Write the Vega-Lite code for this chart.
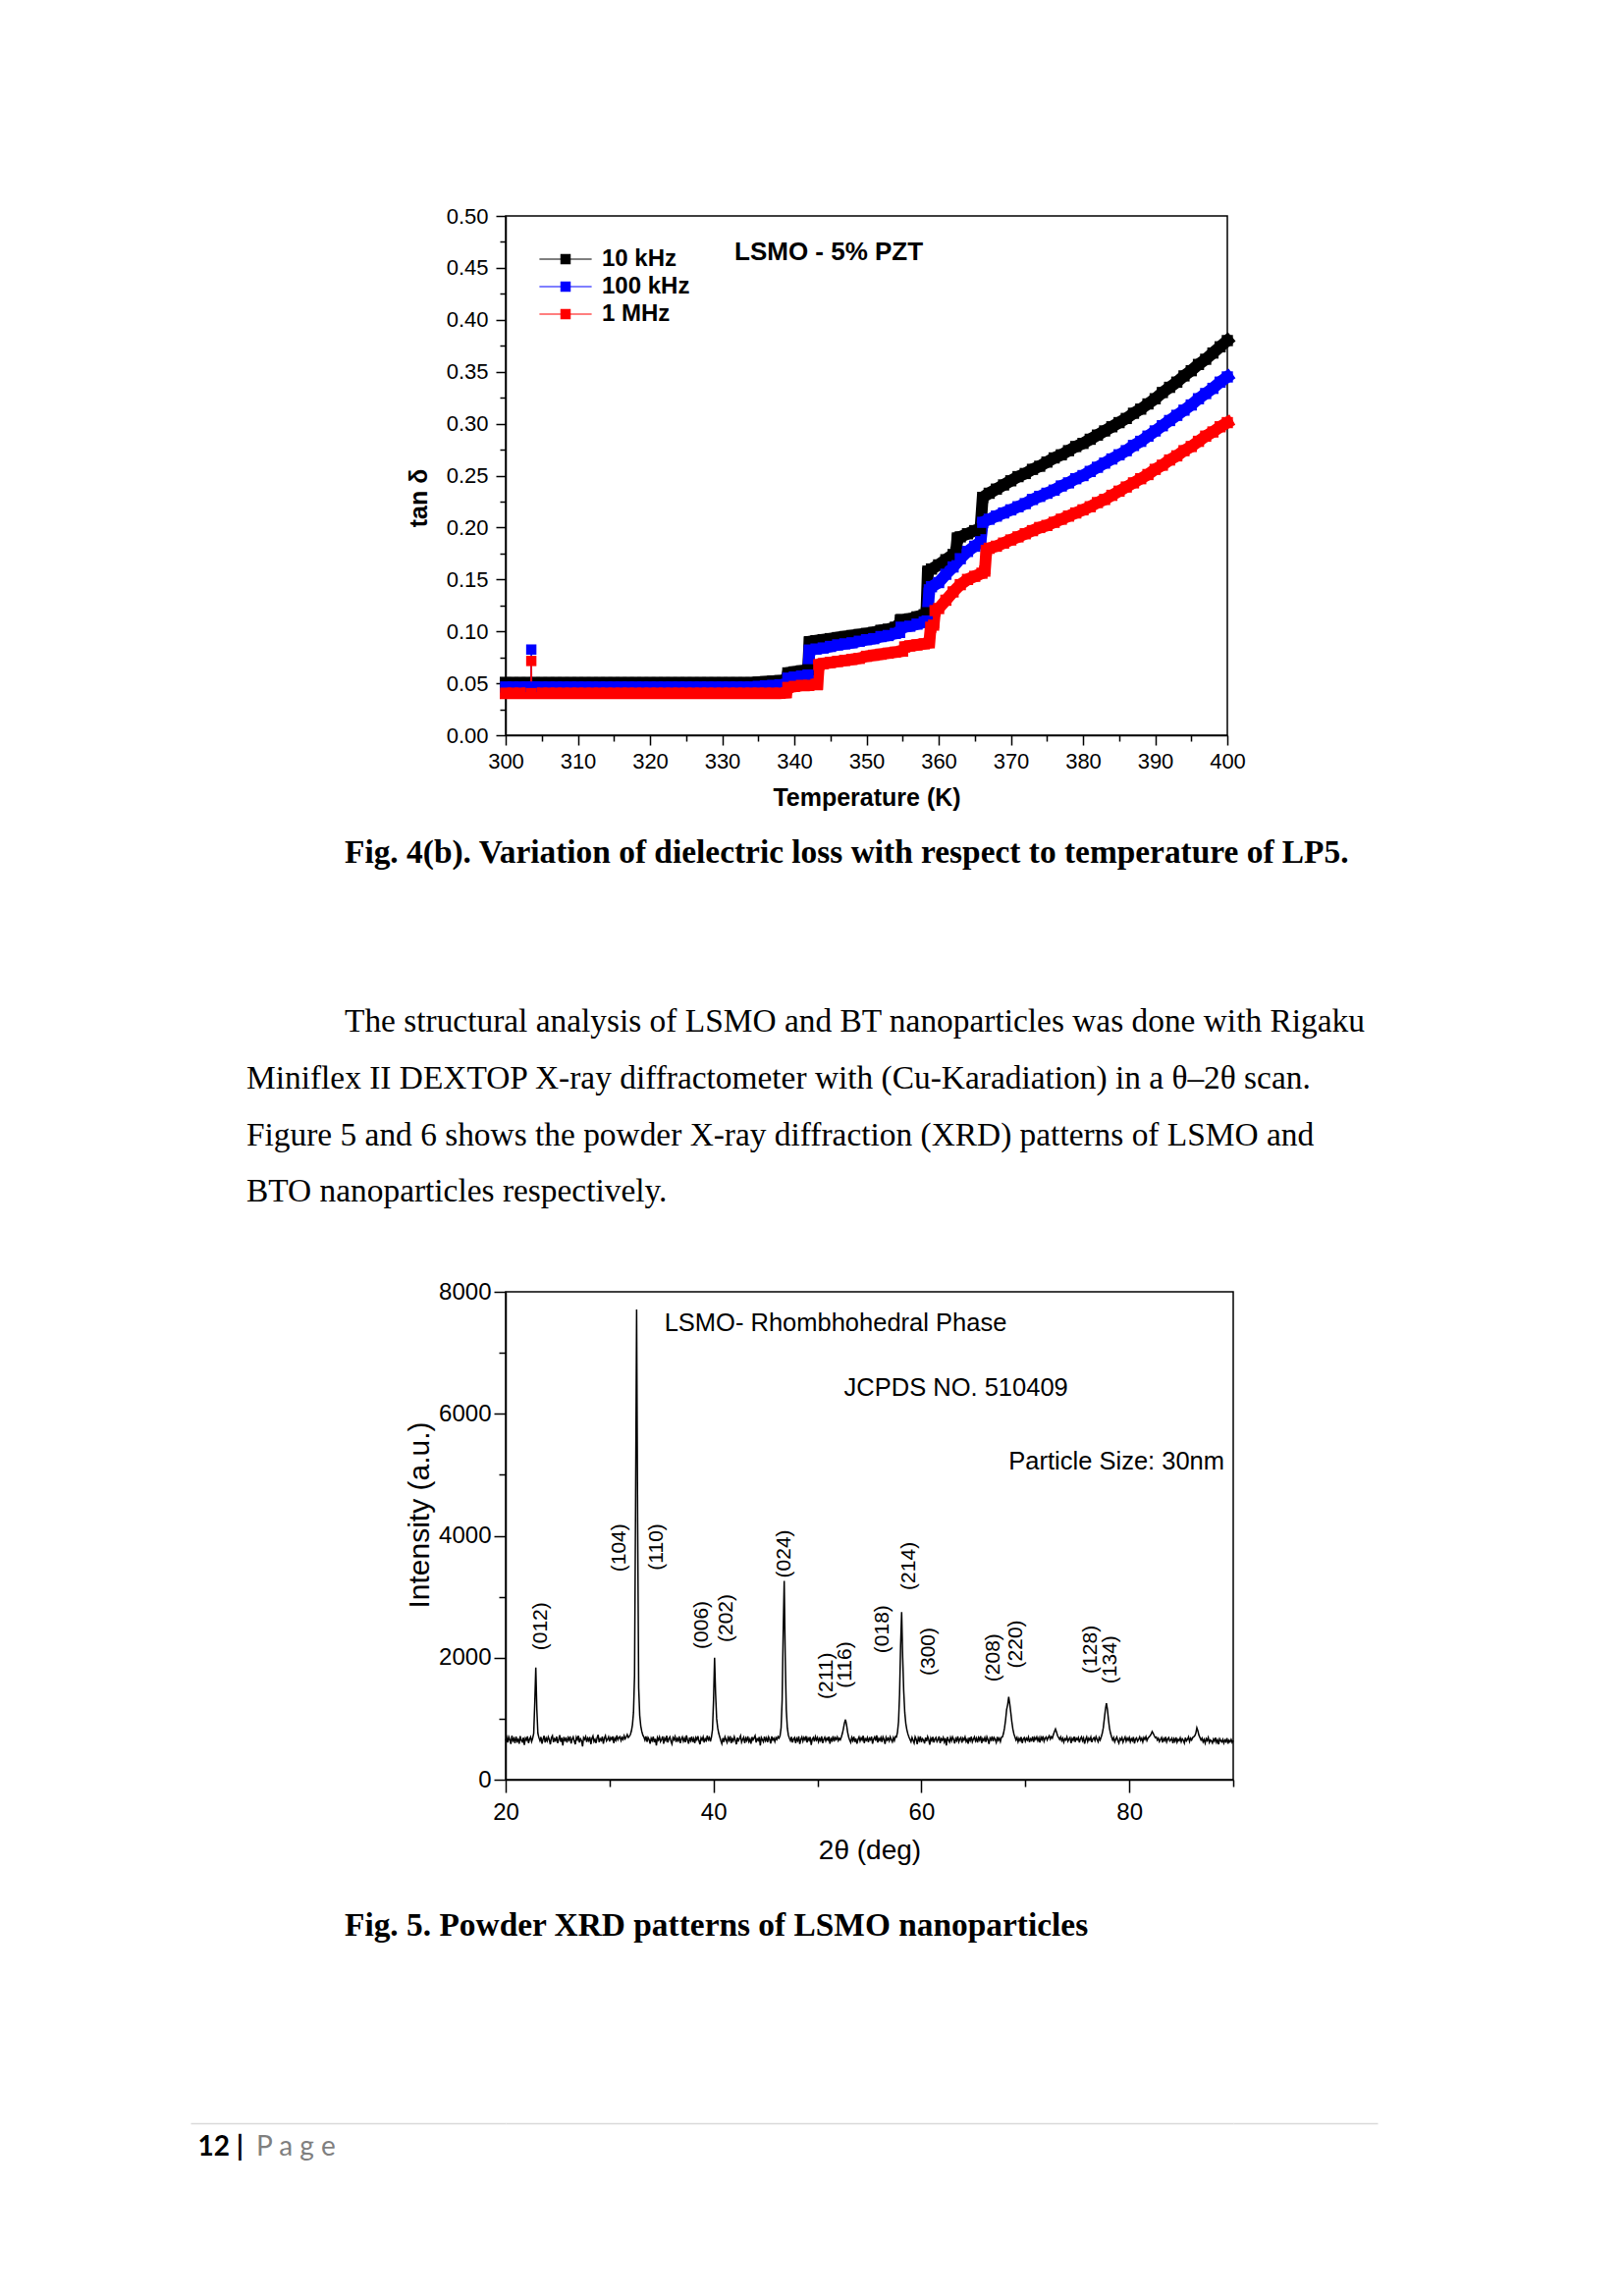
{
"$schema": "https://vega.github.io/schema/vega-lite/v6.json",
"padding": 0,
"background": "white",
"columns": 4,
"spacing": 0,
"bounds": "flush",
"align": "each",
"config": {
  "view": {"stroke": null},
  "axis": {"grid": false, "domainColor": "black", "domainWidth": 1.5, "tickColor": "black", "tickWidth": 1.5, "labelColor": "black", "titleColor": "black", "labelFlush": false, "labelOverlap": false},
  "title": {"baseline": "top", "color": "black"}
},
"datasets": {
 "loss": [
{"T":300,"v":0.0505,"f":"10 kHz"},{"T":301,"v":0.0505,"f":"10 kHz"},{"T":302,"v":0.0505,"f":"10 kHz"},{"T":303,"v":0.0505,"f":"10 kHz"},{"T":304,"v":0.0505,"f":"10 kHz"},{"T":305,"v":0.0505,"f":"10 kHz"},{"T":306,"v":0.0505,"f":"10 kHz"},{"T":307,"v":0.0505,"f":"10 kHz"},{"T":308,"v":0.0505,"f":"10 kHz"},{"T":309,"v":0.0505,"f":"10 kHz"},
{"T":310,"v":0.0505,"f":"10 kHz"},{"T":311,"v":0.0505,"f":"10 kHz"},{"T":312,"v":0.0505,"f":"10 kHz"},{"T":313,"v":0.0505,"f":"10 kHz"},{"T":314,"v":0.0505,"f":"10 kHz"},{"T":315,"v":0.0505,"f":"10 kHz"},{"T":316,"v":0.0505,"f":"10 kHz"},{"T":317,"v":0.0505,"f":"10 kHz"},{"T":318,"v":0.0505,"f":"10 kHz"},{"T":319,"v":0.0505,"f":"10 kHz"},
{"T":320,"v":0.0505,"f":"10 kHz"},{"T":321,"v":0.0505,"f":"10 kHz"},{"T":322,"v":0.0505,"f":"10 kHz"},{"T":323,"v":0.0505,"f":"10 kHz"},{"T":324,"v":0.0505,"f":"10 kHz"},{"T":325,"v":0.0505,"f":"10 kHz"},{"T":326,"v":0.0505,"f":"10 kHz"},{"T":327,"v":0.0505,"f":"10 kHz"},{"T":328,"v":0.0505,"f":"10 kHz"},{"T":329,"v":0.0505,"f":"10 kHz"},
{"T":330,"v":0.0505,"f":"10 kHz"},{"T":331,"v":0.0505,"f":"10 kHz"},{"T":332,"v":0.0505,"f":"10 kHz"},{"T":333,"v":0.0505,"f":"10 kHz"},{"T":334,"v":0.0505,"f":"10 kHz"},{"T":335,"v":0.051,"f":"10 kHz"},{"T":336,"v":0.0515,"f":"10 kHz"},{"T":337,"v":0.052,"f":"10 kHz"},{"T":338,"v":0.0525,"f":"10 kHz"},{"T":338.9,"v":0.053,"f":"10 kHz"},
{"T":339.1,"v":0.06,"f":"10 kHz"},{"T":340,"v":0.061,"f":"10 kHz"},{"T":341,"v":0.062,"f":"10 kHz"},{"T":341.9,"v":0.063,"f":"10 kHz"},{"T":342.1,"v":0.09,"f":"10 kHz"},{"T":343,"v":0.091,"f":"10 kHz"},{"T":344,"v":0.092,"f":"10 kHz"},{"T":345,"v":0.093,"f":"10 kHz"},{"T":346,"v":0.094,"f":"10 kHz"},{"T":347,"v":0.095,"f":"10 kHz"},
{"T":348,"v":0.096,"f":"10 kHz"},{"T":349,"v":0.097,"f":"10 kHz"},{"T":350,"v":0.098,"f":"10 kHz"},{"T":351,"v":0.099,"f":"10 kHz"},{"T":352,"v":0.101,"f":"10 kHz"},{"T":353,"v":0.102,"f":"10 kHz"},{"T":354,"v":0.104,"f":"10 kHz"},{"T":354.5,"v":0.105,"f":"10 kHz"},{"T":354.7,"v":0.111,"f":"10 kHz"},{"T":355,"v":0.111,"f":"10 kHz"},
{"T":356,"v":0.112,"f":"10 kHz"},{"T":357,"v":0.114,"f":"10 kHz"},{"T":358,"v":0.116,"f":"10 kHz"},{"T":358.3,"v":0.118,"f":"10 kHz"},{"T":358.5,"v":0.158,"f":"10 kHz"},{"T":359,"v":0.16,"f":"10 kHz"},{"T":360,"v":0.164,"f":"10 kHz"},{"T":361,"v":0.169,"f":"10 kHz"},{"T":362,"v":0.174,"f":"10 kHz"},{"T":362.4,"v":0.176,"f":"10 kHz"},
{"T":362.6,"v":0.19,"f":"10 kHz"},{"T":363,"v":0.191,"f":"10 kHz"},{"T":364,"v":0.194,"f":"10 kHz"},{"T":365,"v":0.197,"f":"10 kHz"},{"T":365.8,"v":0.199,"f":"10 kHz"},{"T":366.1,"v":0.229,"f":"10 kHz"},{"T":367,"v":0.233,"f":"10 kHz"},{"T":368,"v":0.237,"f":"10 kHz"},{"T":369,"v":0.241,"f":"10 kHz"},{"T":370,"v":0.245,"f":"10 kHz"},
{"T":371,"v":0.249,"f":"10 kHz"},{"T":372,"v":0.252,"f":"10 kHz"},{"T":373,"v":0.256,"f":"10 kHz"},{"T":374,"v":0.259,"f":"10 kHz"},{"T":375,"v":0.263,"f":"10 kHz"},{"T":376,"v":0.267,"f":"10 kHz"},{"T":377,"v":0.27,"f":"10 kHz"},{"T":378,"v":0.274,"f":"10 kHz"},{"T":379,"v":0.278,"f":"10 kHz"},{"T":380,"v":0.281,"f":"10 kHz"},
{"T":381,"v":0.285,"f":"10 kHz"},{"T":382,"v":0.289,"f":"10 kHz"},{"T":383,"v":0.293,"f":"10 kHz"},{"T":384,"v":0.297,"f":"10 kHz"},{"T":385,"v":0.301,"f":"10 kHz"},{"T":386,"v":0.305,"f":"10 kHz"},{"T":387,"v":0.31,"f":"10 kHz"},{"T":388,"v":0.314,"f":"10 kHz"},{"T":389,"v":0.319,"f":"10 kHz"},{"T":390,"v":0.324,"f":"10 kHz"},
{"T":391,"v":0.33,"f":"10 kHz"},{"T":392,"v":0.335,"f":"10 kHz"},{"T":393,"v":0.34,"f":"10 kHz"},{"T":394,"v":0.346,"f":"10 kHz"},{"T":395,"v":0.351,"f":"10 kHz"},{"T":396,"v":0.357,"f":"10 kHz"},{"T":397,"v":0.362,"f":"10 kHz"},{"T":398,"v":0.368,"f":"10 kHz"},{"T":399,"v":0.374,"f":"10 kHz"},{"T":400,"v":0.38,"f":"10 kHz"},
{"T":300,"v":0.0465,"f":"100 kHz"},{"T":301,"v":0.0465,"f":"100 kHz"},{"T":302,"v":0.0465,"f":"100 kHz"},{"T":303,"v":0.0465,"f":"100 kHz"},{"T":304,"v":0.0465,"f":"100 kHz"},{"T":305,"v":0.0465,"f":"100 kHz"},{"T":306,"v":0.0465,"f":"100 kHz"},
{"T":307,"v":0.0465,"f":"100 kHz"},{"T":308,"v":0.0465,"f":"100 kHz"},{"T":309,"v":0.0465,"f":"100 kHz"},{"T":310,"v":0.0465,"f":"100 kHz"},{"T":311,"v":0.0465,"f":"100 kHz"},{"T":312,"v":0.0465,"f":"100 kHz"},{"T":313,"v":0.0465,"f":"100 kHz"},{"T":314,"v":0.0465,"f":"100 kHz"},{"T":315,"v":0.0465,"f":"100 kHz"},{"T":316,"v":0.0465,"f":"100 kHz"},
{"T":317,"v":0.0465,"f":"100 kHz"},{"T":318,"v":0.0465,"f":"100 kHz"},{"T":319,"v":0.0465,"f":"100 kHz"},{"T":320,"v":0.0465,"f":"100 kHz"},{"T":321,"v":0.0465,"f":"100 kHz"},{"T":322,"v":0.0465,"f":"100 kHz"},{"T":323,"v":0.0465,"f":"100 kHz"},{"T":324,"v":0.0465,"f":"100 kHz"},{"T":325,"v":0.0465,"f":"100 kHz"},{"T":326,"v":0.0465,"f":"100 kHz"},
{"T":327,"v":0.0465,"f":"100 kHz"},{"T":328,"v":0.0465,"f":"100 kHz"},{"T":329,"v":0.0465,"f":"100 kHz"},{"T":330,"v":0.0465,"f":"100 kHz"},{"T":331,"v":0.0465,"f":"100 kHz"},{"T":332,"v":0.0465,"f":"100 kHz"},{"T":333,"v":0.0465,"f":"100 kHz"},{"T":334,"v":0.0465,"f":"100 kHz"},{"T":335,"v":0.047,"f":"100 kHz"},{"T":336,"v":0.0475,"f":"100 kHz"},
{"T":337,"v":0.048,"f":"100 kHz"},{"T":338,"v":0.0485,"f":"100 kHz"},{"T":338.9,"v":0.049,"f":"100 kHz"},{"T":339.1,"v":0.055,"f":"100 kHz"},{"T":340,"v":0.056,"f":"100 kHz"},{"T":341,"v":0.057,"f":"100 kHz"},{"T":341.9,"v":0.058,"f":"100 kHz"},{"T":342.1,"v":0.082,"f":"100 kHz"},{"T":343,"v":0.083,"f":"100 kHz"},{"T":344,"v":0.084,"f":"100 kHz"},
{"T":345,"v":0.0855,"f":"100 kHz"},{"T":346,"v":0.087,"f":"100 kHz"},{"T":347,"v":0.088,"f":"100 kHz"},{"T":348,"v":0.089,"f":"100 kHz"},{"T":349,"v":0.0905,"f":"100 kHz"},{"T":350,"v":0.092,"f":"100 kHz"},{"T":351,"v":0.093,"f":"100 kHz"},{"T":352,"v":0.095,"f":"100 kHz"},{"T":353,"v":0.096,"f":"100 kHz"},{"T":354,"v":0.098,"f":"100 kHz"},
{"T":354.6,"v":0.099,"f":"100 kHz"},{"T":354.8,"v":0.104,"f":"100 kHz"},{"T":356,"v":0.105,"f":"100 kHz"},{"T":357,"v":0.107,"f":"100 kHz"},{"T":358,"v":0.109,"f":"100 kHz"},{"T":358.4,"v":0.11,"f":"100 kHz"},{"T":358.7,"v":0.14,"f":"100 kHz"},{"T":359,"v":0.143,"f":"100 kHz"},{"T":360,"v":0.147,"f":"100 kHz"},{"T":361,"v":0.155,"f":"100 kHz"},
{"T":362,"v":0.162,"f":"100 kHz"},{"T":363,"v":0.17,"f":"100 kHz"},{"T":364,"v":0.177,"f":"100 kHz"},{"T":365,"v":0.182,"f":"100 kHz"},{"T":365.8,"v":0.186,"f":"100 kHz"},{"T":366.1,"v":0.205,"f":"100 kHz"},{"T":367,"v":0.208,"f":"100 kHz"},{"T":368,"v":0.211,"f":"100 kHz"},{"T":369,"v":0.214,"f":"100 kHz"},{"T":370,"v":0.217,"f":"100 kHz"},
{"T":371,"v":0.22,"f":"100 kHz"},{"T":372,"v":0.223,"f":"100 kHz"},{"T":373,"v":0.227,"f":"100 kHz"},{"T":374,"v":0.23,"f":"100 kHz"},{"T":375,"v":0.233,"f":"100 kHz"},{"T":376,"v":0.236,"f":"100 kHz"},{"T":377,"v":0.24,"f":"100 kHz"},{"T":378,"v":0.243,"f":"100 kHz"},{"T":379,"v":0.247,"f":"100 kHz"},{"T":380,"v":0.25,"f":"100 kHz"},
{"T":381,"v":0.254,"f":"100 kHz"},{"T":382,"v":0.258,"f":"100 kHz"},{"T":383,"v":0.262,"f":"100 kHz"},{"T":384,"v":0.266,"f":"100 kHz"},{"T":385,"v":0.27,"f":"100 kHz"},{"T":386,"v":0.274,"f":"100 kHz"},{"T":387,"v":0.279,"f":"100 kHz"},{"T":388,"v":0.283,"f":"100 kHz"},{"T":389,"v":0.288,"f":"100 kHz"},{"T":390,"v":0.293,"f":"100 kHz"},
{"T":391,"v":0.298,"f":"100 kHz"},{"T":392,"v":0.303,"f":"100 kHz"},{"T":393,"v":0.308,"f":"100 kHz"},{"T":394,"v":0.313,"f":"100 kHz"},{"T":395,"v":0.318,"f":"100 kHz"},{"T":396,"v":0.324,"f":"100 kHz"},{"T":397,"v":0.329,"f":"100 kHz"},{"T":398,"v":0.334,"f":"100 kHz"},{"T":399,"v":0.34,"f":"100 kHz"},{"T":400,"v":0.345,"f":"100 kHz"},
{"T":300,"v":0.0405,"f":"1 MHz"},{"T":301,"v":0.0405,"f":"1 MHz"},{"T":302,"v":0.0405,"f":"1 MHz"},{"T":303,"v":0.0405,"f":"1 MHz"},{"T":304,"v":0.0405,"f":"1 MHz"},{"T":305,"v":0.0405,"f":"1 MHz"},{"T":306,"v":0.0405,"f":"1 MHz"},
{"T":307,"v":0.0405,"f":"1 MHz"},{"T":308,"v":0.0405,"f":"1 MHz"},{"T":309,"v":0.0405,"f":"1 MHz"},{"T":310,"v":0.0405,"f":"1 MHz"},{"T":311,"v":0.0405,"f":"1 MHz"},{"T":312,"v":0.0405,"f":"1 MHz"},{"T":313,"v":0.0405,"f":"1 MHz"},{"T":314,"v":0.0405,"f":"1 MHz"},{"T":315,"v":0.0405,"f":"1 MHz"},{"T":316,"v":0.0405,"f":"1 MHz"},
{"T":317,"v":0.0405,"f":"1 MHz"},{"T":318,"v":0.0405,"f":"1 MHz"},{"T":319,"v":0.0405,"f":"1 MHz"},{"T":320,"v":0.0405,"f":"1 MHz"},{"T":321,"v":0.0405,"f":"1 MHz"},{"T":322,"v":0.0405,"f":"1 MHz"},{"T":323,"v":0.0405,"f":"1 MHz"},{"T":324,"v":0.0405,"f":"1 MHz"},{"T":325,"v":0.0405,"f":"1 MHz"},{"T":326,"v":0.0405,"f":"1 MHz"},
{"T":327,"v":0.0405,"f":"1 MHz"},{"T":328,"v":0.0405,"f":"1 MHz"},{"T":329,"v":0.0405,"f":"1 MHz"},{"T":330,"v":0.0405,"f":"1 MHz"},{"T":331,"v":0.0405,"f":"1 MHz"},{"T":332,"v":0.0405,"f":"1 MHz"},{"T":333,"v":0.0405,"f":"1 MHz"},{"T":334,"v":0.0405,"f":"1 MHz"},{"T":335,"v":0.0405,"f":"1 MHz"},{"T":336,"v":0.0405,"f":"1 MHz"},
{"T":337,"v":0.0405,"f":"1 MHz"},{"T":338,"v":0.0405,"f":"1 MHz"},{"T":338.9,"v":0.041,"f":"1 MHz"},{"T":339.1,"v":0.046,"f":"1 MHz"},{"T":340,"v":0.047,"f":"1 MHz"},{"T":341,"v":0.048,"f":"1 MHz"},{"T":342,"v":0.048,"f":"1 MHz"},{"T":343,"v":0.049,"f":"1 MHz"},{"T":343.2,"v":0.049,"f":"1 MHz"},{"T":343.4,"v":0.068,"f":"1 MHz"},
{"T":344,"v":0.069,"f":"1 MHz"},{"T":345,"v":0.07,"f":"1 MHz"},{"T":346,"v":0.071,"f":"1 MHz"},{"T":347,"v":0.072,"f":"1 MHz"},{"T":348,"v":0.073,"f":"1 MHz"},{"T":349,"v":0.074,"f":"1 MHz"},{"T":350,"v":0.076,"f":"1 MHz"},{"T":351,"v":0.077,"f":"1 MHz"},{"T":352,"v":0.078,"f":"1 MHz"},{"T":353,"v":0.079,"f":"1 MHz"},
{"T":354,"v":0.08,"f":"1 MHz"},{"T":355,"v":0.081,"f":"1 MHz"},{"T":355.3,"v":0.085,"f":"1 MHz"},{"T":356,"v":0.086,"f":"1 MHz"},{"T":357,"v":0.087,"f":"1 MHz"},{"T":358,"v":0.088,"f":"1 MHz"},{"T":358.7,"v":0.089,"f":"1 MHz"},{"T":358.9,"v":0.104,"f":"1 MHz"},{"T":359.3,"v":0.106,"f":"1 MHz"},{"T":359.5,"v":0.12,"f":"1 MHz"},
{"T":360,"v":0.122,"f":"1 MHz"},{"T":361,"v":0.13,"f":"1 MHz"},{"T":362,"v":0.138,"f":"1 MHz"},{"T":363,"v":0.145,"f":"1 MHz"},{"T":364,"v":0.15,"f":"1 MHz"},{"T":365,"v":0.153,"f":"1 MHz"},{"T":366,"v":0.156,"f":"1 MHz"},{"T":366.4,"v":0.158,"f":"1 MHz"},{"T":366.6,"v":0.178,"f":"1 MHz"},{"T":367,"v":0.18,"f":"1 MHz"},
{"T":368,"v":0.182,"f":"1 MHz"},{"T":369,"v":0.185,"f":"1 MHz"},{"T":370,"v":0.188,"f":"1 MHz"},{"T":371,"v":0.191,"f":"1 MHz"},{"T":372,"v":0.194,"f":"1 MHz"},{"T":373,"v":0.197,"f":"1 MHz"},{"T":374,"v":0.2,"f":"1 MHz"},{"T":375,"v":0.202,"f":"1 MHz"},{"T":376,"v":0.205,"f":"1 MHz"},{"T":377,"v":0.208,"f":"1 MHz"},
{"T":378,"v":0.211,"f":"1 MHz"},{"T":379,"v":0.214,"f":"1 MHz"},{"T":380,"v":0.217,"f":"1 MHz"},{"T":381,"v":0.22,"f":"1 MHz"},{"T":382,"v":0.224,"f":"1 MHz"},{"T":383,"v":0.227,"f":"1 MHz"},{"T":384,"v":0.231,"f":"1 MHz"},{"T":385,"v":0.235,"f":"1 MHz"},{"T":386,"v":0.239,"f":"1 MHz"},{"T":387,"v":0.243,"f":"1 MHz"},
{"T":388,"v":0.247,"f":"1 MHz"},{"T":389,"v":0.251,"f":"1 MHz"},{"T":390,"v":0.256,"f":"1 MHz"},{"T":391,"v":0.26,"f":"1 MHz"},{"T":392,"v":0.265,"f":"1 MHz"},{"T":393,"v":0.269,"f":"1 MHz"},{"T":394,"v":0.274,"f":"1 MHz"},{"T":395,"v":0.278,"f":"1 MHz"},{"T":396,"v":0.283,"f":"1 MHz"},{"T":397,"v":0.288,"f":"1 MHz"},
{"T":398,"v":0.292,"f":"1 MHz"},{"T":399,"v":0.297,"f":"1 MHz"},{"T":400,"v":0.301,"f":"1 MHz"}
 ],
 "spike": [
{"T":303.5,"v":0.0465,"f":"100 kHz"},{"T":303.55,"v":0.0825,"f":"100 kHz"},{"T":303.6,"v":0.0465,"f":"100 kHz"},
{"T":303.5,"v":0.0405,"f":"1 MHz"},{"T":303.55,"v":0.0715,"f":"1 MHz"},{"T":303.6,"v":0.0405,"f":"1 MHz"}
 ],
 "xrd": [
{"t":20,"I":640},{"t":20.1,"I":690},{"t":20.2,"I":610},{"t":20.3,"I":700},{"t":20.4,"I":655},{"t":20.5,"I":585},{"t":20.6,"I":720},{"t":20.7,"I":640},{"t":20.8,"I":675},{"t":20.9,"I":600},
{"t":21,"I":705},{"t":21.1,"I":630},{"t":21.2,"I":660},{"t":21.3,"I":590},{"t":21.4,"I":715},{"t":21.5,"I":645},{"t":21.6,"I":620},{"t":21.7,"I":690},{"t":21.8,"I":570},{"t":21.9,"I":680},
{"t":22,"I":650},{"t":22.1,"I":710},{"t":22.2,"I":600},{"t":22.3,"I":665},{"t":22.4,"I":700},{"t":22.5,"I":625},{"t":22.6,"I":680},{"t":22.7,"I":760},{"t":22.8,"I":1250},{"t":22.9,"I":1840},
{"t":23,"I":1150},{"t":23.1,"I":760},{"t":23.2,"I":690},{"t":23.3,"I":640},{"t":23.4,"I":700},{"t":23.5,"I":590},{"t":23.6,"I":665},{"t":23.7,"I":720},{"t":23.8,"I":610},{"t":23.9,"I":680},
{"t":24,"I":635},{"t":24.1,"I":700},{"t":24.2,"I":655},{"t":24.3,"I":580},{"t":24.4,"I":690},{"t":24.5,"I":720},{"t":24.6,"I":615},{"t":24.7,"I":670},{"t":24.8,"I":640},{"t":24.9,"I":705},
{"t":25,"I":600},{"t":25.1,"I":660},{"t":25.2,"I":730},{"t":25.3,"I":620},{"t":25.4,"I":685},{"t":25.5,"I":560},{"t":25.6,"I":700},{"t":25.7,"I":645},{"t":25.8,"I":675},{"t":25.9,"I":610},
{"t":26,"I":690},{"t":26.1,"I":650},{"t":26.2,"I":710},{"t":26.3,"I":595},{"t":26.4,"I":665},{"t":26.5,"I":700},{"t":26.6,"I":630},{"t":26.7,"I":580},{"t":26.8,"I":695},{"t":26.9,"I":655},
{"t":27,"I":720},{"t":27.1,"I":610},{"t":27.2,"I":670},{"t":27.3,"I":640},{"t":27.4,"I":545},{"t":27.5,"I":690},{"t":27.6,"I":660},{"t":27.7,"I":705},{"t":27.8,"I":620},{"t":27.9,"I":680},
{"t":28,"I":640},{"t":28.1,"I":700},{"t":28.2,"I":580},{"t":28.3,"I":675},{"t":28.4,"I":715},{"t":28.5,"I":625},{"t":28.6,"I":660},{"t":28.7,"I":600},{"t":28.8,"I":690},{"t":28.9,"I":735},
{"t":29,"I":615},{"t":29.1,"I":670},{"t":29.2,"I":645},{"t":29.3,"I":705},{"t":29.4,"I":590},{"t":29.5,"I":680},{"t":29.6,"I":720},{"t":29.7,"I":635},{"t":29.8,"I":660},{"t":29.9,"I":700},
{"t":30,"I":625},{"t":30.1,"I":690},{"t":30.2,"I":660},{"t":30.3,"I":710},{"t":30.4,"I":600},{"t":30.5,"I":680},{"t":30.6,"I":645},{"t":30.7,"I":725},{"t":30.8,"I":655},{"t":30.9,"I":690},
{"t":31,"I":705},{"t":31.1,"I":640},{"t":31.2,"I":690},{"t":31.3,"I":660},{"t":31.4,"I":720},{"t":31.5,"I":670},{"t":31.6,"I":700},{"t":31.7,"I":740},{"t":31.8,"I":690},{"t":31.9,"I":710},
{"t":32,"I":740},{"t":32.1,"I":800},{"t":32.2,"I":900},{"t":32.3,"I":1100},{"t":32.4,"I":1700},{"t":32.5,"I":4500},{"t":32.6,"I":7710},{"t":32.7,"I":4200},{"t":32.8,"I":1500},{"t":32.9,"I":1050},
{"t":33,"I":880},{"t":33.1,"I":790},{"t":33.2,"I":730},{"t":33.3,"I":700},{"t":33.4,"I":650},{"t":33.5,"I":710},{"t":33.6,"I":620},{"t":33.7,"I":690},{"t":33.8,"I":660},{"t":33.9,"I":590},
{"t":34,"I":680},{"t":34.1,"I":640},{"t":34.2,"I":705},{"t":34.3,"I":615},{"t":34.4,"I":670},{"t":34.5,"I":560},{"t":34.6,"I":690},{"t":34.7,"I":650},{"t":34.8,"I":700},{"t":34.9,"I":625},
{"t":35,"I":660},{"t":35.1,"I":710},{"t":35.2,"I":590},{"t":35.3,"I":680},{"t":35.4,"I":645},{"t":35.5,"I":720},{"t":35.6,"I":610},{"t":35.7,"I":670},{"t":35.8,"I":700},{"t":35.9,"I":630},
{"t":36,"I":585},{"t":36.1,"I":690},{"t":36.2,"I":655},{"t":36.3,"I":705},{"t":36.4,"I":620},{"t":36.5,"I":675},{"t":36.6,"I":640},{"t":36.7,"I":710},{"t":36.8,"I":600},{"t":36.9,"I":665},
{"t":37,"I":700},{"t":37.1,"I":630},{"t":37.2,"I":680},{"t":37.3,"I":615},{"t":37.4,"I":725},{"t":37.5,"I":650},{"t":37.6,"I":590},{"t":37.7,"I":690},{"t":37.8,"I":640},{"t":37.9,"I":705},
{"t":38,"I":620},{"t":38.1,"I":675},{"t":38.2,"I":600},{"t":38.3,"I":690},{"t":38.4,"I":655},{"t":38.5,"I":715},{"t":38.6,"I":635},{"t":38.7,"I":580},{"t":38.8,"I":685},{"t":38.9,"I":650},
{"t":39,"I":700},{"t":39.1,"I":610},{"t":39.2,"I":670},{"t":39.3,"I":640},{"t":39.4,"I":720},{"t":39.5,"I":655},{"t":39.6,"I":690},{"t":39.7,"I":625},{"t":39.8,"I":700},{"t":39.9,"I":820},
{"t":40,"I":1300},{"t":40.1,"I":2000},{"t":40.2,"I":1400},{"t":40.3,"I":1000},{"t":40.4,"I":850},{"t":40.5,"I":760},{"t":40.6,"I":700},{"t":40.7,"I":640},{"t":40.8,"I":590},{"t":40.9,"I":680},
{"t":41,"I":620},{"t":41.1,"I":700},{"t":41.2,"I":655},{"t":41.3,"I":610},{"t":41.4,"I":690},{"t":41.5,"I":645},{"t":41.6,"I":715},{"t":41.7,"I":600},{"t":41.8,"I":670},{"t":41.9,"I":635},
{"t":42,"I":705},{"t":42.1,"I":650},{"t":42.2,"I":580},{"t":42.3,"I":690},{"t":42.4,"I":640},{"t":42.5,"I":675},{"t":42.6,"I":720},{"t":42.7,"I":615},{"t":42.8,"I":660},{"t":42.9,"I":695},
{"t":43,"I":600},{"t":43.1,"I":680},{"t":43.2,"I":640},{"t":43.3,"I":710},{"t":43.4,"I":625},{"t":43.5,"I":665},{"t":43.6,"I":590},{"t":43.7,"I":700},{"t":43.8,"I":650},{"t":43.9,"I":685},
{"t":44,"I":720},{"t":44.1,"I":610},{"t":44.2,"I":670},{"t":44.3,"I":645},{"t":44.4,"I":700},{"t":44.5,"I":560},{"t":44.6,"I":690},{"t":44.7,"I":655},{"t":44.8,"I":620},{"t":44.9,"I":705},
{"t":45,"I":640},{"t":45.1,"I":685},{"t":45.2,"I":615},{"t":45.3,"I":700},{"t":45.4,"I":660},{"t":45.5,"I":595},{"t":45.6,"I":710},{"t":45.7,"I":650},{"t":45.8,"I":680},{"t":45.9,"I":625},
{"t":46,"I":690},{"t":46.1,"I":660},{"t":46.2,"I":705},{"t":46.3,"I":680},{"t":46.4,"I":720},{"t":46.5,"I":850},{"t":46.6,"I":1300},{"t":46.7,"I":2400},{"t":46.8,"I":3260},{"t":46.9,"I":2000},
{"t":47,"I":1150},{"t":47.1,"I":850},{"t":47.2,"I":730},{"t":47.3,"I":680},{"t":47.4,"I":640},{"t":47.5,"I":700},{"t":47.6,"I":610},{"t":47.7,"I":665},{"t":47.8,"I":690},{"t":47.9,"I":600},
{"t":48,"I":675},{"t":48.1,"I":640},{"t":48.2,"I":710},{"t":48.3,"I":585},{"t":48.4,"I":660},{"t":48.5,"I":700},{"t":48.6,"I":630},{"t":48.7,"I":690},{"t":48.8,"I":655},{"t":48.9,"I":715},
{"t":49,"I":610},{"t":49.1,"I":680},{"t":49.2,"I":645},{"t":49.3,"I":700},{"t":49.4,"I":570},{"t":49.5,"I":665},{"t":49.6,"I":690},{"t":49.7,"I":625},{"t":49.8,"I":705},{"t":49.9,"I":650},
{"t":50,"I":690},{"t":50.1,"I":620},{"t":50.2,"I":675},{"t":50.3,"I":640},{"t":50.4,"I":710},{"t":50.5,"I":600},{"t":50.6,"I":660},{"t":50.7,"I":695},{"t":50.8,"I":635},{"t":50.9,"I":680},
{"t":51,"I":650},{"t":51.1,"I":705},{"t":51.2,"I":590},{"t":51.3,"I":670},{"t":51.4,"I":640},{"t":51.5,"I":715},{"t":51.6,"I":625},{"t":51.7,"I":690},{"t":51.8,"I":660},{"t":51.9,"I":700},
{"t":52,"I":640},{"t":52.1,"I":680},{"t":52.2,"I":655},{"t":52.3,"I":700},{"t":52.4,"I":760},{"t":52.5,"I":840},{"t":52.6,"I":930},{"t":52.7,"I":985},{"t":52.8,"I":900},{"t":52.9,"I":780},
{"t":53,"I":700},{"t":53.1,"I":650},{"t":53.2,"I":610},{"t":53.3,"I":690},{"t":53.4,"I":640},{"t":53.5,"I":705},{"t":53.6,"I":620},{"t":53.7,"I":675},{"t":53.8,"I":590},{"t":53.9,"I":660},
{"t":54,"I":700},{"t":54.1,"I":635},{"t":54.2,"I":685},{"t":54.3,"I":650},{"t":54.4,"I":720},{"t":54.5,"I":600},{"t":54.6,"I":670},{"t":54.7,"I":645},{"t":54.8,"I":690},{"t":54.9,"I":615},
{"t":55,"I":680},{"t":55.1,"I":655},{"t":55.2,"I":705},{"t":55.3,"I":590},{"t":55.4,"I":665},{"t":55.5,"I":700},{"t":55.6,"I":640},{"t":55.7,"I":725},{"t":55.8,"I":610},{"t":55.9,"I":675},
{"t":56,"I":645},{"t":56.1,"I":690},{"t":56.2,"I":620},{"t":56.3,"I":700},{"t":56.4,"I":660},{"t":56.5,"I":585},{"t":56.6,"I":695},{"t":56.7,"I":650},{"t":56.8,"I":680},{"t":56.9,"I":635},
{"t":57,"I":700},{"t":57.1,"I":655},{"t":57.2,"I":620},{"t":57.3,"I":690},{"t":57.4,"I":640},{"t":57.5,"I":705},{"t":57.6,"I":700},{"t":57.7,"I":780},{"t":57.8,"I":950},{"t":57.9,"I":1400},
{"t":58,"I":2200},{"t":58.1,"I":2750},{"t":58.2,"I":2000},{"t":58.3,"I":1450},{"t":58.4,"I":1100},{"t":58.5,"I":920},{"t":58.6,"I":820},{"t":58.7,"I":750},{"t":58.8,"I":700},{"t":58.9,"I":660},
{"t":59,"I":620},{"t":59.1,"I":690},{"t":59.2,"I":645},{"t":59.3,"I":600},{"t":59.4,"I":700},{"t":59.5,"I":660},{"t":59.6,"I":580},{"t":59.7,"I":685},{"t":59.8,"I":640},{"t":59.9,"I":710},
{"t":60,"I":615},{"t":60.1,"I":670},{"t":60.2,"I":650},{"t":60.3,"I":595},{"t":60.4,"I":690},{"t":60.5,"I":630},{"t":60.6,"I":705},{"t":60.7,"I":660},{"t":60.8,"I":575},{"t":60.9,"I":680},
{"t":61,"I":640},{"t":61.1,"I":700},{"t":61.2,"I":610},{"t":61.3,"I":665},{"t":61.4,"I":690},{"t":61.5,"I":625},{"t":61.6,"I":655},{"t":61.7,"I":710},{"t":61.8,"I":600},{"t":61.9,"I":670},
{"t":62,"I":645},{"t":62.1,"I":690},{"t":62.2,"I":620},{"t":62.3,"I":680},{"t":62.4,"I":560},{"t":62.5,"I":700},{"t":62.6,"I":650},{"t":62.7,"I":615},{"t":62.8,"I":690},{"t":62.9,"I":635},
{"t":63,"I":700},{"t":63.1,"I":660},{"t":63.2,"I":595},{"t":63.3,"I":675},{"t":63.4,"I":640},{"t":63.5,"I":710},{"t":63.6,"I":620},{"t":63.7,"I":665},{"t":63.8,"I":690},{"t":63.9,"I":605},
{"t":64,"I":680},{"t":64.1,"I":650},{"t":64.2,"I":700},{"t":64.3,"I":625},{"t":64.4,"I":660},{"t":64.5,"I":590},{"t":64.6,"I":690},{"t":64.7,"I":640},{"t":64.8,"I":705},{"t":64.9,"I":620},
{"t":65,"I":665},{"t":65.1,"I":700},{"t":65.2,"I":635},{"t":65.3,"I":680},{"t":65.4,"I":610},{"t":65.5,"I":690},{"t":65.6,"I":650},{"t":65.7,"I":715},{"t":65.8,"I":600},{"t":65.9,"I":670},
{"t":66,"I":640},{"t":66.1,"I":690},{"t":66.2,"I":620},{"t":66.3,"I":700},{"t":66.4,"I":655},{"t":66.5,"I":585},{"t":66.6,"I":680},{"t":66.7,"I":650},{"t":66.8,"I":710},{"t":66.9,"I":630},
{"t":67,"I":690},{"t":67.1,"I":660},{"t":67.2,"I":610},{"t":67.3,"I":700},{"t":67.4,"I":645},{"t":67.5,"I":680},{"t":67.6,"I":625},{"t":67.7,"I":695},{"t":67.8,"I":700},{"t":67.9,"I":760},
{"t":68,"I":850},{"t":68.1,"I":980},{"t":68.2,"I":1150},{"t":68.3,"I":1230},{"t":68.4,"I":1360},{"t":68.5,"I":1240},{"t":68.6,"I":1100},{"t":68.7,"I":950},{"t":68.8,"I":830},{"t":68.9,"I":750},
{"t":69,"I":700},{"t":69.1,"I":650},{"t":69.2,"I":690},{"t":69.3,"I":620},{"t":69.4,"I":675},{"t":69.5,"I":640},{"t":69.6,"I":700},{"t":69.7,"I":600},{"t":69.8,"I":665},{"t":69.9,"I":690},
{"t":70,"I":630},{"t":70.1,"I":680},{"t":70.2,"I":650},{"t":70.3,"I":700},{"t":70.4,"I":615},{"t":70.5,"I":670},{"t":70.6,"I":645},{"t":70.7,"I":705},{"t":70.8,"I":620},{"t":70.9,"I":690},
{"t":71,"I":660},{"t":71.1,"I":700},{"t":71.2,"I":640},{"t":71.3,"I":685},{"t":71.4,"I":610},{"t":71.5,"I":695},{"t":71.6,"I":655},{"t":71.7,"I":715},{"t":71.8,"I":630},{"t":71.9,"I":680},
{"t":72,"I":700},{"t":72.1,"I":650},{"t":72.2,"I":690},{"t":72.3,"I":720},{"t":72.4,"I":665},{"t":72.5,"I":705},{"t":72.6,"I":680},{"t":72.7,"I":740},{"t":72.8,"I":790},{"t":72.9,"I":830},
{"t":73,"I":780},{"t":73.1,"I":720},{"t":73.2,"I":690},{"t":73.3,"I":660},{"t":73.4,"I":700},{"t":73.5,"I":640},{"t":73.6,"I":680},{"t":73.7,"I":615},{"t":73.8,"I":670},{"t":73.9,"I":650},
{"t":74,"I":700},{"t":74.1,"I":630},{"t":74.2,"I":665},{"t":74.3,"I":690},{"t":74.4,"I":600},{"t":74.5,"I":675},{"t":74.6,"I":645},{"t":74.7,"I":705},{"t":74.8,"I":620},{"t":74.9,"I":680},
{"t":75,"I":655},{"t":75.1,"I":690},{"t":75.2,"I":610},{"t":75.3,"I":670},{"t":75.4,"I":700},{"t":75.5,"I":640},{"t":75.6,"I":685},{"t":75.7,"I":590},{"t":75.8,"I":660},{"t":75.9,"I":700},
{"t":76,"I":625},{"t":76.1,"I":680},{"t":76.2,"I":650},{"t":76.3,"I":700},{"t":76.4,"I":615},{"t":76.5,"I":670},{"t":76.6,"I":690},{"t":76.7,"I":640},{"t":76.8,"I":705},{"t":76.9,"I":660},
{"t":77,"I":620},{"t":77.1,"I":690},{"t":77.2,"I":650},{"t":77.3,"I":700},{"t":77.4,"I":760},{"t":77.5,"I":850},{"t":77.6,"I":1000},{"t":77.7,"I":1150},{"t":77.8,"I":1255},{"t":77.9,"I":1150},
{"t":78,"I":980},{"t":78.1,"I":840},{"t":78.2,"I":760},{"t":78.3,"I":700},{"t":78.4,"I":650},{"t":78.5,"I":690},{"t":78.6,"I":620},{"t":78.7,"I":665},{"t":78.8,"I":700},{"t":78.9,"I":640},
{"t":79,"I":600},{"t":79.1,"I":675},{"t":79.2,"I":650},{"t":79.3,"I":690},{"t":79.4,"I":615},{"t":79.5,"I":660},{"t":79.6,"I":700},{"t":79.7,"I":630},{"t":79.8,"I":680},{"t":79.9,"I":645},
{"t":80,"I":690},{"t":80.1,"I":620},{"t":80.2,"I":670},{"t":80.3,"I":640},{"t":80.4,"I":700},{"t":80.5,"I":595},{"t":80.6,"I":665},{"t":80.7,"I":685},{"t":80.8,"I":630},{"t":80.9,"I":660},
{"t":81,"I":700},{"t":81.1,"I":645},{"t":81.2,"I":680},{"t":81.3,"I":620},{"t":81.4,"I":690},{"t":81.5,"I":660},{"t":81.6,"I":705},{"t":81.7,"I":640},{"t":81.8,"I":680},{"t":81.9,"I":700},
{"t":82,"I":720},{"t":82.1,"I":745},{"t":82.2,"I":790},{"t":82.3,"I":760},{"t":82.4,"I":720},{"t":82.5,"I":690},{"t":82.6,"I":700},{"t":82.7,"I":650},{"t":82.8,"I":680},{"t":82.9,"I":625},
{"t":83,"I":660},{"t":83.1,"I":690},{"t":83.2,"I":610},{"t":83.3,"I":675},{"t":83.4,"I":640},{"t":83.5,"I":700},{"t":83.6,"I":620},{"t":83.7,"I":665},{"t":83.8,"I":690},{"t":83.9,"I":635},
{"t":84,"I":650},{"t":84.1,"I":680},{"t":84.2,"I":600},{"t":84.3,"I":670},{"t":84.4,"I":630},{"t":84.5,"I":695},{"t":84.6,"I":615},{"t":84.7,"I":660},{"t":84.8,"I":640},{"t":84.9,"I":685},
{"t":85,"I":620},{"t":85.1,"I":670},{"t":85.2,"I":645},{"t":85.3,"I":600},{"t":85.4,"I":690},{"t":85.5,"I":635},{"t":85.6,"I":660},{"t":85.7,"I":700},{"t":85.8,"I":625},{"t":85.9,"I":680},
{"t":86,"I":650},{"t":86.1,"I":690},{"t":86.2,"I":700},{"t":86.3,"I":720},{"t":86.4,"I":760},{"t":86.5,"I":850},{"t":86.6,"I":800},{"t":86.7,"I":730},{"t":86.8,"I":690},{"t":86.9,"I":650},
{"t":87,"I":680},{"t":87.1,"I":620},{"t":87.2,"I":660},{"t":87.3,"I":600},{"t":87.4,"I":670},{"t":87.5,"I":640},{"t":87.6,"I":690},{"t":87.7,"I":610},{"t":87.8,"I":650},{"t":87.9,"I":635},
{"t":88,"I":600},{"t":88.1,"I":665},{"t":88.2,"I":630},{"t":88.3,"I":690},{"t":88.4,"I":610},{"t":88.5,"I":650},{"t":88.6,"I":580},{"t":88.7,"I":670},{"t":88.8,"I":640},{"t":88.9,"I":620},
{"t":89,"I":660},{"t":89.1,"I":600},{"t":89.2,"I":650},{"t":89.3,"I":625},{"t":89.4,"I":680},{"t":89.5,"I":590},{"t":89.6,"I":645},{"t":89.7,"I":620},{"t":89.8,"I":660},{"t":89.9,"I":610},
{"t":90,"I":640}
 ]
},
"concat": [
{"width": 1, "height": 220, "data": {"values": []}, "mark": {"type": "point", "opacity": 0}, "encoding": {}},
{"width": 1, "height": 220, "data": {"values": []}, "mark": {"type": "point", "opacity": 0}, "encoding": {}},
{"width": 1, "height": 220, "data": {"values": []}, "mark": {"type": "point", "opacity": 0}, "encoding": {}},
{"width": 398, "height": 220, "data": {"values": []}, "mark": {"type": "point", "opacity": 0}, "encoding": {}},
{"width": 194, "height": 529, "data": {"values": []}, "mark": {"type": "point", "opacity": 0}, "encoding": {},
 "title": {"text": "Fig. 4(b). Variation of dielectric loss with respect to temperature of LP5.", "orient": "bottom", "anchor": "start", "frame": "group", "offset": 104, "dx": 351, "font": "Liberation Serif", "fontSize": 33.4, "fontWeight": "bold", "color": "black",
   "subtitle": "The structural analysis of LSMO and BT nanoparticles was done with Rigaku", "subtitleFont": "Liberation Serif", "subtitleFontSize": 33.4, "subtitleFontWeight": "normal", "subtitleColor": "black", "subtitlePadding": 139}},
{"width": 321, "height": 529, "data": {"values": []}, "mark": {"type": "point", "opacity": 0}, "encoding": {}},
{"width": 735, "height": 529,
 "view": {"stroke": "black", "strokeWidth": 1.5},
 "layer": [
  {"data": {"name": "loss"},
   "mark": {"type": "line", "strokeWidth": 12, "strokeCap": "square", "strokeJoin": "miter"},
   "encoding": {
     "x": {"field": "T", "type": "quantitative", "scale": {"domain": [300, 400], "nice": false, "zero": false},
           "axis": {"orient": "bottom", "values": [300,310,320,330,340,350,360,370,380,390,400], "tickSize": 10, "labelPadding": 6, "labelFont": "Liberation Sans", "labelFontSize": 22, "title": "Temperature (K)", "titleFont": "Liberation Sans", "titleFontSize": 25, "titleFontWeight": "bold", "titlePadding": 14}},
     "y": {"field": "v", "type": "quantitative", "scale": {"domain": [0, 0.5], "nice": false, "zero": false},
           "axis": {"orient": "left", "values": [0,0.05,0.1,0.15,0.2,0.25,0.3,0.35,0.4,0.45,0.5], "format": ".2f", "tickSize": 10, "labelPadding": 8, "labelFont": "Liberation Sans", "labelFontSize": 22, "title": "tan δ", "titleFont": "Liberation Sans", "titleFontSize": 25, "titleFontWeight": "bold", "titlePadding": 15, "titleY": 287}},
     "color": {"field": "f", "type": "nominal", "scale": {"domain": ["10 kHz", "100 kHz", "1 MHz"], "range": ["#000000", "#0000ff", "#ff0000"]},
           "legend": {"title": null, "orient": "none", "legendX": 564, "legendY": 252, "padding": 0, "symbolType": "M-5.74,0H5.74M-1,-1H1V1H-1Z", "symbolSize": 86, "symbolStrokeWidth": 1.2, "labelFont": "Liberation Sans", "labelFontSize": 24, "labelFontWeight": "bold", "labelColor": "black", "labelOffset": 25, "rowPadding": 4,
             "encode": {"symbols": {"update": {"fill": {"signal": "datum.value === '10 kHz' ? '#000000' : datum.value === '100 kHz' ? '#0000ff' : '#ff0000'"}, "stroke": {"signal": "datum.value === '10 kHz' ? '#000000' : datum.value === '100 kHz' ? '#0000ff' : '#ff0000'"}, "opacity": {"value": 1}}}}}}
   }},
  {"data": {"name": "loss"},
   "mark": {"type": "point", "shape": "square", "filled": true, "size": 130, "opacity": 1},
   "encoding": {
     "x": {"field": "T", "type": "quantitative", "scale": {"domain": [300, 400], "nice": false, "zero": false}, "axis": null},
     "y": {"field": "v", "type": "quantitative", "scale": {"domain": [0, 0.5], "nice": false, "zero": false}, "axis": null},
     "color": {"field": "f", "type": "nominal", "scale": {"domain": ["10 kHz", "100 kHz", "1 MHz"], "range": ["#000000", "#0000ff", "#ff0000"]}}
   }},
  {"data": {"name": "spike"},
   "mark": {"type": "line", "strokeWidth": 1.5},
   "encoding": {
     "x": {"field": "T", "type": "quantitative", "scale": {"domain": [300, 400], "nice": false, "zero": false}, "axis": null},
     "y": {"field": "v", "type": "quantitative", "scale": {"domain": [0, 0.5], "nice": false, "zero": false}, "axis": null},
     "color": {"field": "f", "type": "nominal", "scale": {"domain": ["10 kHz", "100 kHz", "1 MHz"], "range": ["#000000", "#0000ff", "#ff0000"]}}
   }},
  {"data": {"name": "spike"},
   "mark": {"type": "point", "shape": "square", "filled": true, "size": 110, "opacity": 1},
   "encoding": {
     "x": {"field": "T", "type": "quantitative", "scale": {"domain": [300, 400], "nice": false, "zero": false}, "axis": null},
     "y": {"field": "v", "type": "quantitative", "scale": {"domain": [0, 0.5], "nice": false, "zero": false}, "axis": null},
     "color": {"field": "f", "type": "nominal", "scale": {"domain": ["10 kHz", "100 kHz", "1 MHz"], "range": ["#000000", "#0000ff", "#ff0000"]}}
   }},
  {"data": {"values": [{"T": 331.7, "v": 0.4653, "label": "LSMO - 5% PZT"}]},
   "mark": {"type": "text", "align": "left", "baseline": "middle", "font": "Liberation Sans", "fontSize": 26, "fontWeight": "bold", "color": "black"},
   "encoding": {
     "x": {"field": "T", "type": "quantitative", "scale": {"domain": [300, 400], "nice": false, "zero": false},
           "axis": {"orient": "bottom", "values": [305,315,325,335,345,355,365,375,385,395], "tickSize": 6, "labels": false, "domain": false, "title": null}},
     "y": {"field": "v", "type": "quantitative", "scale": {"domain": [0, 0.5], "nice": false, "zero": false},
           "axis": {"orient": "left", "values": [0.025,0.075,0.125,0.175,0.225,0.275,0.325,0.375,0.425,0.475], "tickSize": 6, "labels": false, "domain": false, "title": null}},
     "text": {"field": "label"}
   }}
 ],
 "resolve": {"axis": {"x": "independent", "y": "independent"}}
},
{"width": 1, "height": 529, "data": {"values": []}, "mark": {"type": "point", "opacity": 0}, "encoding": {}},
{"width": 1, "height": 567, "data": {"values": []}, "mark": {"type": "point", "opacity": 0}, "encoding": {}},
{"width": 1, "height": 567, "data": {"values": []}, "mark": {"type": "point", "opacity": 0}, "encoding": {}},
{"width": 1, "height": 567, "data": {"values": []}, "mark": {"type": "point", "opacity": 0}, "encoding": {}},
{"width": 1, "height": 567, "data": {"values": []}, "mark": {"type": "point", "opacity": 0}, "encoding": {}},
{"width": 194, "height": 497, "data": {"values": []}, "mark": {"type": "point", "opacity": 0}, "encoding": {},
 "title": {"text": ["Miniflex II DEXTOP X-ray diffractometer with (Cu-Karadiation) in a θ–2θ scan.", "Figure 5 and 6 shows the powder X-ray diffraction (XRD) patterns of LSMO and", "BTO nanoparticles respectively."], "orient": "top", "anchor": "start", "frame": "group", "offset": 84.5, "dx": 251, "lineHeight": 57.5, "font": "Liberation Serif", "fontSize": 33.4, "fontWeight": "normal", "color": "black"}},
{"width": 321, "height": 497, "data": {"values": []}, "mark": {"type": "point", "opacity": 0}, "encoding": {},
 "title": {"text": "Fig. 5. Powder XRD patterns of LSMO nanoparticles", "orient": "bottom", "anchor": "start", "frame": "group", "offset": 133, "dx": 157, "font": "Liberation Serif", "fontSize": 33.4, "fontWeight": "bold", "color": "black"}},
{"width": 741, "height": 497,
 "view": {"stroke": "black", "strokeWidth": 1.5},
 "layer": [
  {"data": {"name": "xrd"},
   "mark": {"type": "line", "color": "black", "strokeWidth": 1.5},
   "encoding": {
     "x": {"field": "t", "type": "quantitative", "scale": {"domain": [20, 90], "nice": false, "zero": false},
           "axis": {"orient": "bottom", "values": [20, 40, 60, 80], "tickSize": 13, "labelPadding": 8, "labelFont": "Liberation Sans", "labelFontSize": 24, "title": "2θ (deg)", "titleFont": "Liberation Sans", "titleFontSize": 28, "titleFontWeight": "normal", "titlePadding": 13}},
     "y": {"field": "I", "type": "quantitative", "scale": {"domain": [0, 8000], "nice": false, "zero": false},
           "axis": {"orient": "left", "values": [0, 2000, 4000, 6000, 8000], "format": "d", "tickSize": 12, "labelPadding": 3, "labelFont": "Liberation Sans", "labelFontSize": 24, "title": "Intensity (a.u.)", "titleFont": "Liberation Sans", "titleFontSize": 30, "titleFontWeight": "normal", "titlePadding": 4, "titleY": 227}}
   }},
  {"data": {"values": [
     {"t": 35.27, "I": 7487, "label": "LSMO- Rhombhohedral Phase"},
     {"t": 52.55, "I": 6419, "label": "JCPDS NO. 510409"},
     {"t": 68.4, "I": 5216, "label": "Particle Size:  30nm"}
   ]},
   "mark": {"type": "text", "align": "left", "baseline": "middle", "font": "Liberation Sans", "fontSize": 25.5, "color": "black"},
   "encoding": {
     "x": {"field": "t", "type": "quantitative", "scale": {"domain": [20, 90], "nice": false, "zero": false},
           "axis": {"orient": "bottom", "values": [30, 50, 70, 90], "tickSize": 7, "labels": false, "domain": false, "title": null}},
     "y": {"field": "I", "type": "quantitative", "scale": {"domain": [0, 8000], "nice": false, "zero": false},
           "axis": {"orient": "left", "values": [1000, 3000, 5000, 7000], "tickSize": 7, "labels": false, "domain": false, "title": null}},
     "text": {"field": "label"}
   }},
  {"data": {"values": [
     {"t": 23.38, "I": 2515, "label": "(012)"},
     {"t": 30.98, "I": 3803, "label": "(104)"},
     {"t": 34.51, "I": 3816, "label": "(110)"},
     {"t": 38.86, "I": 2536, "label": "(006)"},
     {"t": 41.25, "I": 2648, "label": "(202)"},
     {"t": 46.85, "I": 3703, "label": "(024)"},
     {"t": 50.92, "I": 1702, "label": "(211)"},
     {"t": 52.71, "I": 1882, "label": "(116)"},
     {"t": 56.24, "I": 2468, "label": "(018)"},
     {"t": 58.79, "I": 3503, "label": "(214)"},
     {"t": 60.69, "I": 2101, "label": "(300)"},
     {"t": 66.94, "I": 2001, "label": "(208)"},
     {"t": 69.11, "I": 2222, "label": "(220)"},
     {"t": 76.33, "I": 2135, "label": "(128)"},
     {"t": 78.18, "I": 1969, "label": "(134)"}
   ]},
   "mark": {"type": "text", "angle": 270, "align": "center", "baseline": "middle", "font": "Liberation Sans", "fontSize": 21, "color": "black"},
   "encoding": {
     "x": {"field": "t", "type": "quantitative", "scale": {"domain": [20, 90], "nice": false, "zero": false}, "axis": null},
     "y": {"field": "I", "type": "quantitative", "scale": {"domain": [0, 8000], "nice": false, "zero": false}, "axis": null},
     "text": {"field": "label"}
   }}
 ],
 "resolve": {"axis": {"x": "independent", "y": "independent"}}
},
{"width": 1, "height": 497, "data": {"values": []}, "mark": {"type": "point", "opacity": 0}, "encoding": {}},
{"width": 1, "height": 350, "data": {"values": []}, "mark": {"type": "point", "opacity": 0}, "encoding": {}},
{"width": 1, "height": 350, "data": {"values": []}, "mark": {"type": "point", "opacity": 0}, "encoding": {}},
{"width": 1, "height": 350, "data": {"values": []}, "mark": {"type": "point", "opacity": 0}, "encoding": {}},
{"width": 1, "height": 350, "data": {"values": []}, "mark": {"type": "point", "opacity": 0}, "encoding": {}},
{"width": 194, "height": 1, "data": {"values": []}, "mark": {"type": "point", "opacity": 0}, "encoding": {},
 "title": {"text": "P a g e", "orient": "bottom", "anchor": "start", "frame": "group", "offset": 10, "dx": 261, "font": "Lato", "fontSize": 28, "fontWeight": "normal", "color": "#7f7f7f"}},
{"width": 321, "height": 1, "data": {"values": []}, "mark": {"type": "point", "opacity": 0},
 "encoding": {"x": {"field": "p", "type": "quantitative", "scale": {"domain": [0, 1]}, "axis": {"orient": "top", "domainColor": "#d9d9d9", "domainWidth": 1.3, "ticks": false, "labels": false, "title": null}}},
 "title": {"text": "12 |", "orient": "bottom", "anchor": "start", "frame": "group", "offset": 10, "dx": 7.5, "font": "Lato", "fontSize": 28, "fontWeight": "bold", "color": "black"}},
{"width": 741, "height": 1, "data": {"values": []}, "mark": {"type": "point", "opacity": 0},
 "encoding": {"x": {"field": "p", "type": "quantitative", "scale": {"domain": [0, 1]}, "axis": {"orient": "top", "domainColor": "#d9d9d9", "domainWidth": 1.3, "ticks": false, "labels": false, "title": null}}}},
{"width": 147, "height": 1, "data": {"values": []}, "mark": {"type": "point", "opacity": 0},
 "encoding": {"x": {"field": "p", "type": "quantitative", "scale": {"domain": [0, 1]}, "axis": {"orient": "top", "domainColor": "#d9d9d9", "domainWidth": 1.3, "ticks": false, "labels": false, "title": null}}}}
]
}
